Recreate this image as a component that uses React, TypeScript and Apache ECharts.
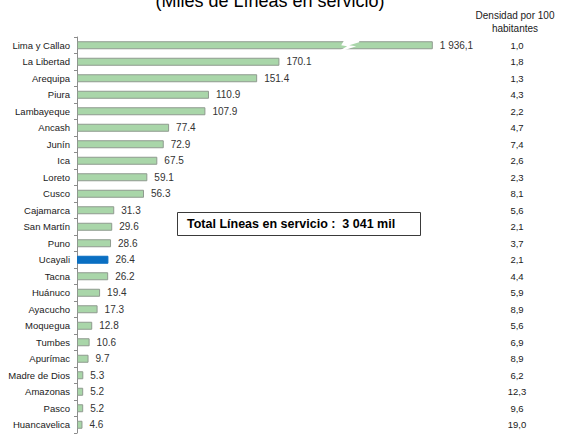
import React, { useEffect, useRef } from "react";
import * as echarts from "echarts";

const categories = [
  "Lima y Callao", "La Libertad", "Arequipa", "Piura", "Lambayeque", "Ancash", "Junín", "Ica",
  "Loreto", "Cusco", "Cajamarca", "San Martín", "Puno", "Ucayali", "Tacna", "Huánuco",
  "Ayacucho", "Moquegua", "Tumbes", "Apurímac", "Madre de Dios", "Amazonas", "Pasco", "Huancavelica",
];
const lineas = [
  1936.1, 170.1, 151.4, 110.9, 107.9, 77.4, 72.9, 67.5, 59.1, 56.3, 31.3, 29.6, 28.6, 26.4, 26.2,
  19.4, 17.3, 12.8, 10.6, 9.7, 5.3, 5.2, 5.2, 4.6,
];
const densidad = [
  "1,0", "1,8", "1,3", "4,3", "2,2", "4,7", "7,4", "2,6", "2,3", "8,1", "5,6", "2,1", "3,7", "2,1",
  "4,4", "5,9", "8,9", "5,6", "6,9", "8,9", "6,2", "12,3", "9,6", "19,0",
];
const highlighted = "Ucayali";
const AXIS_MAX = 300;
const BREAK_CAP = 299; // displayed length of the broken bar
const BREAK_AT = 222;
const title = "(Miles de Líneas en servicio)";
const densHeader = "Densidad por 100\nhabitantes";
const totalText = "Total Líneas en servicio :  3 041 mil";

const fmt = (v: number) =>
  v >= 1000 ? (Math.floor(v / 1000) + " " + (v % 1000).toFixed(1).padStart(5, "0")).replace(".", ",") : v.toFixed(1);

export default function App() {
  const ref = useRef<HTMLDivElement>(null);
  useEffect(() => {
    if (!ref.current) return;
    document.body.style.margin = "0";
    const chart = echarts.init(ref.current, null, { renderer: "svg" });
    const font = "Liberation Sans, Arial, sans-serif";
    chart.setOption({
      animation: false,
      backgroundColor: "#ffffff",
      grid: { left: 77, right: 128, top: 37, bottom: 4, containLabel: false },
      xAxis: { type: "value", min: 0, max: AXIS_MAX, show: false },
      yAxis: [
        {
          type: "category",
          data: categories,
          inverse: true,
          axisLine: { show: true, lineStyle: { color: "#8c8c8c", width: 1 } },
          axisTick: { show: true, length: 3, lineStyle: { color: "#8c8c8c" } },
          axisLabel: { color: "#1a1a1a", fontSize: 9.5, fontFamily: font, margin: 7 },
        },
        {
          type: "category",
          data: densidad,
          inverse: true,
          position: "right",
          axisLine: { show: false },
          axisTick: { show: false },
          axisLabel: { color: "#1a1a1a", fontSize: 9.5, fontFamily: font, margin: 83, align: "center" },
        },
      ],
      series: [
        {
          type: "bar",
          yAxisIndex: 0,
          barWidth: 8,
          data: lineas.map((v, i) => ({
            value: Math.min(v, BREAK_CAP),
            itemStyle: {
              color: categories[i] === highlighted ? "#0a6fc2" : "#a9d6a9",
              borderColor: categories[i] === highlighted ? "#0a6fc2" : "#8f9a8f",
              borderWidth: 1,
            },
          })),
          label: {
            show: true,
            position: "right",
            distance: 7,
            color: "#333333",
            fontSize: 10,
            fontFamily: font,
            formatter: (p: any) => fmt(lineas[p.dataIndex]),
          },
        },
      ],
    });
    const p = chart.convertToPixel({ gridIndex: 0 }, [BREAK_AT, categories[0]]) as number[];
    const x = p[0];
    const y = p[1];
    chart.setOption({
      graphic: [
        {
          type: "text",
          x: 270,
          y: 1,
          style: {
            text: title,
            font: "18px Liberation Sans, Arial, sans-serif",
            fill: "#000",
            align: "center",
            verticalAlign: "middle",
          },
        },
        {
          type: "text",
          x: 515,
          y: 9,
          style: {
            text: densHeader,
            font: "10px Liberation Sans, Arial, sans-serif",
            fill: "#1a1a1a",
            align: "center",
            lineHeight: 13,
          },
        },
        {
          type: "polygon",
          shape: {
            points: [
              [x + 3, y - 5],
              [x + 18, y - 5],
              [x + 18, y - 3],
              [x + 8, y],
              [x + 15, y + 1],
              [x + 3, y + 5],
              [x - 1, y + 5],
              [x + 6, y + 1],
              [x, y],
            ],
          },
          style: { fill: "#ffffff" },
          z: 100,
        },
        {
          type: "rect",
          shape: { x: 177.5, y: 212.5, width: 243, height: 23 },
          style: { fill: "#ffffff", stroke: "#3a3a3a", lineWidth: 1 },
          z: 50,
        },
        {
          type: "text",
          x: 187,
          y: 224,
          style: {
            text: totalText,
            font: "bold 12.5px Liberation Sans, Arial, sans-serif",
            fill: "#000",
            verticalAlign: "middle",
          },
          z: 51,
        },
      ],
    });
    return () => chart.dispose();
  }, []);
  return <div ref={ref} style={{ width: 562, height: 437 }} />;
}
